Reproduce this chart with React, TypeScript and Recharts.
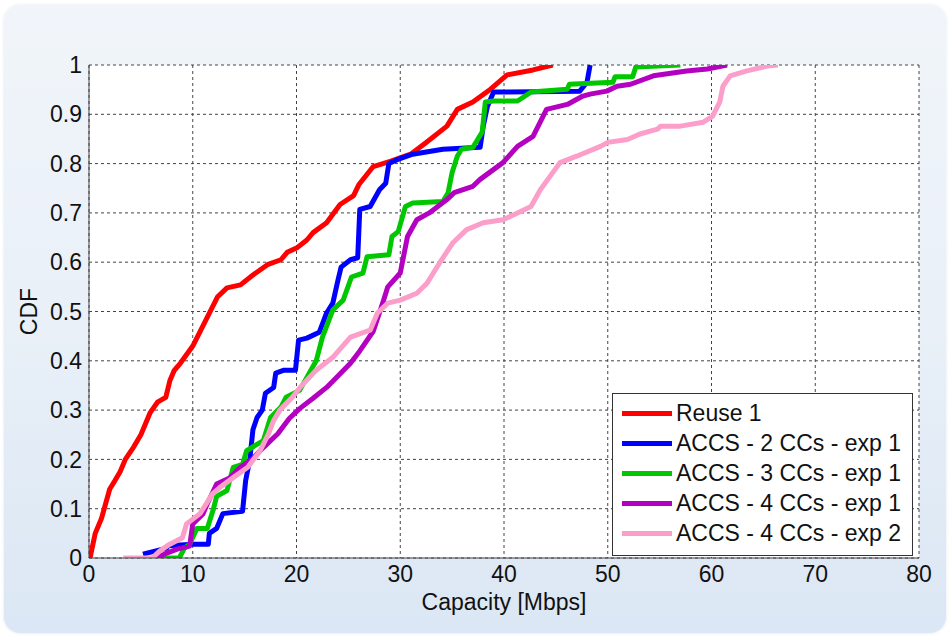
import {
  CartesianGrid,
  Label,
  Legend,
  Line,
  LineChart,
  XAxis,
  YAxis,
} from "recharts";

type Pt = [number, number];

// values (x = capacity in Mbps, y = CDF)
const reuse1: Pt[] = [
  [0, 0], [0.1, 0], [0.6, 0.05], [1.2, 0.08], [2.0, 0.14], [2.5, 0.157],
  [3.0, 0.175], [3.5, 0.2], [4.3, 0.225], [5.0, 0.25], [5.9, 0.295],
  [6.6, 0.316], [7.4, 0.326], [7.8, 0.36], [8.2, 0.38], [8.8, 0.395],
  [10.0, 0.43], [11.2, 0.48], [12.4, 0.53], [13.3, 0.548], [14.6, 0.554],
  [15.8, 0.574], [17.2, 0.595], [18.5, 0.605], [19.1, 0.62], [20.1, 0.63],
  [21.0, 0.645], [21.6, 0.66], [22.9, 0.68], [24.2, 0.717], [25.5, 0.735],
  [26.0, 0.757], [27.4, 0.794], [29.1, 0.805], [31.0, 0.819], [32.5, 0.843],
  [34.5, 0.876], [35.5, 0.91], [37.0, 0.925], [38.7, 0.951], [40.3, 0.98],
  [42.8, 0.99], [44.7, 1.0],
];

const accs2exp1: Pt[] = [
  [5.2, 0.008], [7.5, 0.02], [7.6, 0.025], [10.0, 0.028], [11.5, 0.028],
  [11.6, 0.05], [12.3, 0.06], [12.9, 0.09], [14.8, 0.095], [15.1, 0.157],
  [15.5, 0.2], [15.8, 0.26], [16.2, 0.285], [16.7, 0.3], [17.0, 0.334],
  [17.8, 0.346], [18.0, 0.375], [18.8, 0.381], [19.9, 0.381], [20.2, 0.442],
  [21.0, 0.446], [22.2, 0.458], [22.9, 0.497], [23.5, 0.517], [24.0, 0.564],
  [24.3, 0.59], [25.2, 0.605], [25.9, 0.609], [26.1, 0.707], [27.1, 0.713],
  [28.0, 0.747], [28.6, 0.76], [28.9, 0.8], [29.7, 0.808], [31.2, 0.819],
  [34.1, 0.829], [37.7, 0.833], [38.0, 0.876], [38.4, 0.916], [39.0, 0.945],
  [47.3, 0.947], [48.0, 0.965], [48.3, 1.0],
];

const accs3exp1: Pt[] = [
  [6.8, 0], [8.7, 0], [9.2, 0.02], [9.7, 0.028], [10.4, 0.06], [11.4, 0.06],
  [12.0, 0.1], [12.3, 0.125], [13.3, 0.137], [13.9, 0.184], [14.8, 0.19],
  [15.2, 0.218], [16.8, 0.238], [17.5, 0.285], [18.5, 0.306], [19.0, 0.326],
  [20.3, 0.34], [21.9, 0.4], [22.5, 0.448], [23.5, 0.503], [24.5, 0.523],
  [25.3, 0.57], [26.4, 0.578], [26.8, 0.611], [28.9, 0.615], [29.2, 0.652],
  [29.8, 0.662], [30.5, 0.713], [31.2, 0.72], [34.1, 0.723], [34.6, 0.74],
  [35.0, 0.782], [35.5, 0.815], [35.9, 0.829], [37.0, 0.833], [37.9, 0.864],
  [38.2, 0.925], [39.0, 0.927], [41.3, 0.927], [42.6, 0.945], [46.1, 0.951],
  [46.3, 0.961], [50.5, 0.965], [50.7, 0.976], [52.4, 0.976], [52.7, 0.996],
  [57.0, 1.0],
];

const accs4exp1: Pt[] = [
  [6.5, 0], [7.5, 0.01], [8.5, 0.018], [9.7, 0.024], [10.0, 0.069],
  [11.0, 0.09], [11.4, 0.11], [12.3, 0.15], [13.6, 0.163], [14.6, 0.184],
  [15.7, 0.2], [16.8, 0.224], [18.2, 0.252], [19.3, 0.283], [20.3, 0.303],
  [21.6, 0.324], [22.9, 0.346], [23.9, 0.367], [25.2, 0.395], [26.1, 0.42],
  [27.4, 0.46], [28.4, 0.523], [28.8, 0.55], [30.0, 0.578], [30.7, 0.652],
  [31.6, 0.686], [32.8, 0.7], [34.5, 0.727], [35.2, 0.741], [37.0, 0.754],
  [37.7, 0.768], [39.9, 0.802], [41.3, 0.835], [42.8, 0.855], [44.1, 0.91],
  [46.1, 0.92], [47.6, 0.937], [48.3, 0.941], [49.9, 0.947], [50.9, 0.957],
  [52.2, 0.961], [54.4, 0.978], [57.6, 0.988], [59.6, 0.992], [61.5, 1.0],
];

const accs4exp2: Pt[] = [
  [3.3, 0], [6.1, 0], [6.8, 0.014], [7.8, 0.028], [9.0, 0.041], [9.4, 0.069],
  [10.7, 0.09], [11.9, 0.13], [12.6, 0.143], [13.9, 0.163], [15.3, 0.184],
  [16.5, 0.218], [17.3, 0.252], [17.8, 0.279], [18.4, 0.3], [19.6, 0.326],
  [20.3, 0.345], [21.9, 0.381], [23.5, 0.407], [25.2, 0.448], [27.1, 0.462],
  [27.8, 0.497], [28.8, 0.517], [30.0, 0.523], [31.6, 0.537], [32.6, 0.558],
  [33.8, 0.599], [35.1, 0.64], [36.4, 0.666], [38.0, 0.68], [39.9, 0.686],
  [41.3, 0.7], [42.6, 0.713], [43.5, 0.747], [45.4, 0.802], [47.0, 0.815],
  [49.3, 0.835], [50.0, 0.843], [51.9, 0.849], [53.1, 0.86], [54.8, 0.87],
  [55.1, 0.876], [57.0, 0.876], [59.2, 0.884], [60.1, 0.896], [60.8, 0.925],
  [61.1, 0.957], [61.8, 0.978], [63.4, 0.988], [65.4, 0.998], [66.4, 1.0],
];

const xTicks = [0, 10, 20, 30, 40, 50, 60, 70, 80];
const yTicks = [0, 0.1, 0.2, 0.3, 0.4, 0.5, 0.6, 0.7, 0.8, 0.9, 1];

const SERIES = [
  { name: "Reuse 1", color: "#ff0000", points: reuse1 },
  { name: "ACCS - 2 CCs - exp 1", color: "#0000ff", points: accs2exp1 },
  { name: "ACCS - 3 CCs - exp 1", color: "#00c800", points: accs3exp1 },
  { name: "ACCS - 4 CCs - exp 1", color: "#b400c0", points: accs4exp1 },
  { name: "ACCS - 4 CCs - exp 2", color: "#fb9fca", points: accs4exp2 },
];

const FONT = '"Liberation Sans", Arial, sans-serif';
const tickStyle = { fontSize: 23, fill: "#111", fontFamily: FONT };

function LegendBox() {
  return (
    <div
      style={{
        width: 299,
        height: 157,
        border: "1px solid #333",
        background: "#fff",
        paddingTop: 4,
        boxSizing: "content-box",
        fontFamily: FONT,
        fontSize: 23,
        color: "#111",
      }}
    >
      {SERIES.map((s) => (
        <div
          key={s.name}
          style={{ display: "flex", alignItems: "center", height: 30, paddingLeft: 9 }}
        >
          <span
            style={{ width: 50, height: 5, background: s.color, marginRight: 4, flex: "none" }}
          />
          <span style={{ lineHeight: "30px", whiteSpace: "nowrap" }}>{s.name}</span>
        </div>
      ))}
    </div>
  );
}

export default function App() {
  return (
    <div style={{ position: "absolute", left: 0, top: 0, width: 949, height: 636 }}>
      <div
        style={{
          position: "absolute",
          left: 4,
          top: 5,
          width: 942,
          height: 628,
          borderRadius: 16,
          background: "linear-gradient(180deg, #f1f5fa 0%, #e9f0f8 50%, #dbe7f4 100%)",
          boxShadow: "0 0 3px rgba(120,150,190,0.25)",
        }}
      />
      <div style={{ position: "absolute", left: 0, top: 0 }}>
        <LineChart
          width={949}
          height={636}
          margin={{ top: 65, right: 30, bottom: 18, left: 29 }}
        >
          <CartesianGrid
            stroke="#444"
            strokeDasharray="3 3"
            fill="#fff"
            fillOpacity={1}
            horizontalValues={yTicks}
            verticalValues={xTicks}
          />
          <XAxis
            type="number"
            dataKey="x"
            domain={[0, 80]}
            ticks={xTicks}
            height={60}
            tickLine={false}
            tickSize={0}
            tickMargin={8}
            tick={tickStyle}
            axisLine={{ stroke: "#444" }}
            allowDataOverflow
          >
            <Label
              value="Capacity [Mbps]"
              position="insideBottom"
              offset={8}
              style={{ fontSize: 23, fill: "#111", fontFamily: FONT }}
            />
          </XAxis>
          <XAxis
            xAxisId="top"
            orientation="top"
            type="number"
            domain={[0, 80]}
            height={0}
            tick={false}
            tickLine={false}
            axisLine={{ stroke: "#444" }}
          />
          <YAxis
            type="number"
            domain={[0, 1]}
            ticks={yTicks}
            width={60}
            tickLine={false}
            tickSize={0}
            tickMargin={7}
            tick={tickStyle}
            tickFormatter={(v: number) => String(v)}
            axisLine={{ stroke: "#444" }}
            allowDataOverflow
          >
            <Label
              value="CDF"
              angle={-90}
              position="insideLeft"
              offset={0}
              style={{ fontSize: 23, fill: "#111", fontFamily: FONT, textAnchor: "middle" }}
            />
          </YAxis>
          <YAxis
            yAxisId="right"
            orientation="right"
            type="number"
            domain={[0, 1]}
            width={0}
            tick={false}
            tickLine={false}
            axisLine={{ stroke: "#444" }}
          />
          {SERIES.map((s) => (
            <Line
              key={s.name}
              name={s.name}
              data={s.points.map(([x, y]) => ({ x, y }))}
              dataKey="y"
              type="linear"
              stroke={s.color}
              strokeWidth={5}
              strokeLinejoin="round"
              dot={false}
              activeDot={false}
              isAnimationActive={false}
            />
          ))}
          <Legend
            layout="vertical"
            align="center"
            verticalAlign="middle"
            wrapperStyle={{ left: 612, top: 393, width: 301 }}
            content={() => <LegendBox />}
          />
        </LineChart>
      </div>
    </div>
  );
}
